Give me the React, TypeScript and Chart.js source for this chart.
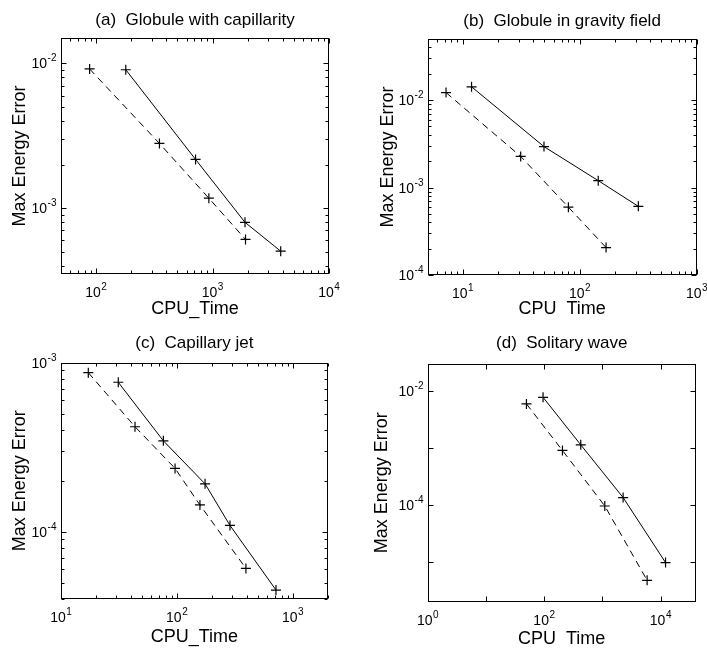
import React, { useEffect, useRef } from 'react';
import { Chart, registerables } from 'chart.js';
Chart.register(...registerables);

const FONT = "'Liberation Sans', Arial, Helvetica, sans-serif";

// ---------- data ----------
// (a) Globule with capillarity
const aTimeSolid = [180, 715, 1900, 3850];
const aErrSolid = [9.05e-3, 2.17e-3, 7.97e-4, 5.03e-4];
const aTimeDashed = [88, 350, 930, 1920];
const aErrDashed = [9.16e-3, 2.8e-3, 1.17e-3, 6.07e-4];
const aXRange = [50, 1e4];
const aYRange = [3.5e-4, 1.5e-2];
const aXTicks = [1e2, 1e3, 1e4];
const aYTicks = [1e-3, 1e-2];

// (b) Globule in gravity field
const bTimeSolid = [11.9, 49.5, 144, 317];
const bErrSolid = [1.42e-2, 2.94e-3, 1.2e-3, 6.1e-4];
const bTimeDashed = [7.2, 31.3, 80, 168];
const bErrDashed = [1.22e-2, 2.27e-3, 5.97e-4, 2.06e-4];
const bXRange = [5, 1e3];
const bYRange = [1e-4, 5e-2];
const bXTicks = [1e1, 1e2, 1e3];
const bYTicks = [1e-4, 1e-3, 1e-2];

// (c) Capillary jet
const cTimeSolid = [31.2, 76.4, 175, 287, 716];
const cErrSolid = [7.66e-4, 3.45e-4, 1.92e-4, 1.09e-4, 4.52e-5];
const cTimeDashed = [17.2, 43.5, 96.4, 158, 394];
const cErrDashed = [8.73e-4, 4.18e-4, 2.37e-4, 1.44e-4, 6.07e-5];
const cXRange = [10, 2000];
const cYRange = [4e-5, 1e-3];
const cXTicks = [1e1, 1e2, 1e3];
const cYTicks = [1e-4, 1e-3];

// (d) Solitary wave
const dTimeSolid = [95.7, 425, 2269, 12140];
const dErrSolid = [7.8e-3, 1.14e-3, 1.35e-4, 9.75e-6];
const dTimeDashed = [49.6, 206, 1099, 5861];
const dErrDashed = [5.97e-3, 9.08e-4, 9.6e-5, 4.75e-6];
const dXRange = [1, 4e4];
const dYRange = [2e-6, 3e-2];
const dXTicks = [1e0, 1e2, 1e4];
const dYTicks = [1e-4, 1e-2];

const titles = ['(a)  Globule with capillarity', '(b)  Globule in gravity field', '(c)  Capillary jet', '(d)  Solitary wave'];
const xLabels = ['CPU_Time', 'CPU  Time', 'CPU_Time', 'CPU  Time'];
const yLabel = 'Max Energy Error';

// ---------- helpers ----------
function drawPow(ctx: CanvasRenderingContext2D, v: number, x: number, y: number, align: 'center' | 'right') {
  const base = '10';
  const exp = String(Math.round(Math.log10(v)));
  ctx.font = `14px ${FONT}`;
  const wb = ctx.measureText(base).width;
  ctx.font = `10px ${FONT}`;
  const we = ctx.measureText(exp).width;
  const total = wb + we + 0.5;
  const x0 = align === 'center' ? x - total / 2 : x - total;
  ctx.textAlign = 'left';
  ctx.textBaseline = 'alphabetic';
  ctx.font = `14px ${FONT}`;
  ctx.fillText(base, x0, y);
  ctx.font = `10px ${FONT}`;
  ctx.fillText(exp, x0 + wb + 0.5, y - 7);
}

function boxPlugin(minor: boolean, xTicks: number[], yTicks: number[]) {
  return {
    id: 'boxTicks',
    afterDraw(chart: any) {
      const { ctx, chartArea, scales } = chart;
      const { left, top, right, bottom } = chartArea;
      const x = scales.x, y = scales.y;
      ctx.save();
      ctx.strokeStyle = '#000';
      ctx.fillStyle = '#000';
      ctx.lineWidth = 1;
      ctx.setLineDash([]);
      const L = Math.round(left) + 0.5, R = Math.round(right) - 0.5;
      const T = Math.round(top) + 0.5, B = Math.round(bottom) - 0.5;
      ctx.strokeRect(L, T, R - L, B - T);
      const marks = (min: number, max: number) => {
        const out: { v: number; major: boolean }[] = [];
        for (let e = Math.floor(Math.log10(min)); e <= Math.ceil(Math.log10(max)); e++) {
          for (let k = 1; k <= 9; k++) {
            if (!minor && k > 1) continue;
            const v = k * Math.pow(10, e);
            if (v >= min * 0.999 && v <= max * 1.001) out.push({ v, major: k === 1 });
          }
        }
        return out;
      };
      ctx.beginPath();
      for (const m of marks(x.min, x.max)) {
        const px = Math.round(x.getPixelForValue(m.v)) + 0.5;
        const len = m.major ? 5 : 3;
        ctx.moveTo(px, B); ctx.lineTo(px, B - len);
        ctx.moveTo(px, T); ctx.lineTo(px, T + len);
      }
      for (const m of marks(y.min, y.max)) {
        const py = Math.round(y.getPixelForValue(m.v)) + 0.5;
        const len = m.major ? 5 : 3;
        ctx.moveTo(L, py); ctx.lineTo(L + len, py);
        ctx.moveTo(R, py); ctx.lineTo(R - len, py);
      }
      ctx.stroke();
      for (const v of xTicks) drawPow(ctx, v, x.getPixelForValue(v), B + 23, 'center');
      for (const v of yTicks) drawPow(ctx, v, L - 5, y.getPixelForValue(v) + 5, 'right');
      ctx.restore();
    },
  };
}

type PanelDef = {
  left: number; top: number; w: number; h: number;
  title: string; xLabel: string;
  solid: [number[], number[]]; dashed: [number[], number[]];
  xRange: number[]; yRange: number[]; xTicks: number[]; yTicks: number[];
  minor: boolean;
  yAxisW: number; xAxisH: number; padRight: number;
  titleTop: number; titleBottom: number; yTitleTop: number; xTitleBottom: number;
};

const panels: PanelDef[] = [
  {
    left: 0, top: 0, w: 354, h: 326, title: titles[0], xLabel: xLabels[0],
    solid: [aTimeSolid, aErrSolid], dashed: [aTimeDashed, aErrDashed],
    xRange: aXRange, yRange: aYRange, xTicks: aXTicks, yTicks: aYTicks, minor: true,
    yAxisW: 61, xAxisH: 52, padRight: 25, titleTop: 10, titleBottom: 7.6, yTitleTop: 9.2, xTitleBottom: 6.5,
  },
  {
    left: 354, top: 0, w: 353, h: 326, title: titles[1], xLabel: xLabels[1],
    solid: [bTimeSolid, bErrSolid], dashed: [bTimeDashed, bErrDashed],
    xRange: bXRange, yRange: bYRange, xTicks: bXTicks, yTicks: bYTicks, minor: true,
    yAxisW: 73.5, xAxisH: 51, padRight: 10.3, titleTop: 10.8, titleBottom: 7.8, yTitleTop: 23.7, xTitleBottom: 6.5,
  },
  {
    left: 0, top: 326, w: 354, h: 326, title: titles[2], xLabel: xLabels[2],
    solid: [cTimeSolid, cErrSolid], dashed: [cTimeDashed, cErrDashed],
    xRange: cXRange, yRange: cYRange, xTicks: cXTicks, yTicks: cYTicks, minor: true,
    yAxisW: 61, xAxisH: 53, padRight: 26.3, titleTop: 6.8, titleBottom: 9.5, yTitleTop: 9.2, xTitleBottom: 4,
  },
  {
    left: 354, top: 326, w: 353, h: 326, title: titles[3], xLabel: xLabels[3],
    solid: [dTimeSolid, dErrSolid], dashed: [dTimeDashed, dErrDashed],
    xRange: dXRange, yRange: dYRange, xTicks: dXTicks, yTicks: dYTicks, minor: false,
    yAxisW: 73.7, xAxisH: 50.3, padRight: 11.3, titleTop: 7.3, titleBottom: 10.3, yTitleTop: 17.2, xTitleBottom: 2.5,
  },
];

function Panel({ p }: { p: PanelDef }) {
  const ref = useRef<HTMLCanvasElement>(null);
  useEffect(() => {
    if (!ref.current) return;
    const mk = (xs: number[], ys: number[], dashed: boolean) => ({
      data: xs.map((x, i) => ({ x, y: ys[i] })),
      showLine: true,
      borderColor: '#000',
      borderWidth: 1,
      borderDash: dashed ? [7, 5] : [],
      pointStyle: 'cross',
      pointRadius: 5,
      pointBorderWidth: 1.2,
      pointBorderColor: '#000',
      pointBackgroundColor: '#000',
      fill: false,
      tension: 0,
    });
    const chart = new Chart(ref.current, {
      type: 'scatter',
      data: { datasets: [mk(p.solid[0], p.solid[1], false), mk(p.dashed[0], p.dashed[1], true)] as any },
      options: {
        responsive: false,
        maintainAspectRatio: false,
        animation: false,
        events: [],
        layout: { padding: { left: 0, top: 0, right: p.padRight, bottom: 0 } },
        plugins: {
          legend: { display: false },
          tooltip: { enabled: false },
          title: {
            display: true, text: p.title, fullSize: false, color: '#000',
            font: { family: FONT, size: 17, weight: 'normal' },
            padding: { top: p.titleTop, bottom: p.titleBottom },
          },
        },
        scales: {
          x: {
            type: 'logarithmic', min: p.xRange[0], max: p.xRange[1],
            afterBuildTicks: (s: any) => { s.ticks = p.xTicks.map((v) => ({ value: v })); },
            afterFit: (s: any) => { s.height = p.xAxisH; s.paddingLeft = 0; s.paddingRight = 0; },
            grid: { display: false, drawTicks: false },
            border: { display: false },
            ticks: { display: false, autoSkip: false, maxRotation: 0, minRotation: 0 },
            title: {
              display: true, text: p.xLabel, color: '#000',
              font: { family: FONT, size: 18 }, padding: { top: 0, bottom: p.xTitleBottom },
            },
          },
          y: {
            type: 'logarithmic', min: p.yRange[0], max: p.yRange[1],
            afterBuildTicks: (s: any) => { s.ticks = p.yTicks.map((v) => ({ value: v })); },
            afterFit: (s: any) => { s.width = p.yAxisW; s.paddingTop = 0; s.paddingBottom = 0; },
            grid: { display: false, drawTicks: false },
            border: { display: false },
            ticks: { display: false, autoSkip: false },
            title: {
              display: true, text: yLabel, color: '#000',
              font: { family: FONT, size: 18 }, padding: { top: p.yTitleTop, bottom: 0 },
            },
          },
        },
      } as any,
      plugins: [boxPlugin(p.minor, p.xTicks, p.yTicks)],
    });
    return () => chart.destroy();
  }, [p]);
  return (
    <div style={{ position: 'absolute', left: p.left, top: p.top, width: p.w, height: p.h }}>
      <canvas ref={ref} width={p.w} height={p.h} style={{ width: p.w, height: p.h, display: 'block' }} />
    </div>
  );
}

export default function App() {
  return (
    <div style={{ position: 'absolute', left: 0, top: 0, width: 707, height: 652, background: '#fff', overflow: 'hidden' }}>
      {panels.map((p, i) => (
        <Panel key={i} p={p} />
      ))}
    </div>
  );
}
